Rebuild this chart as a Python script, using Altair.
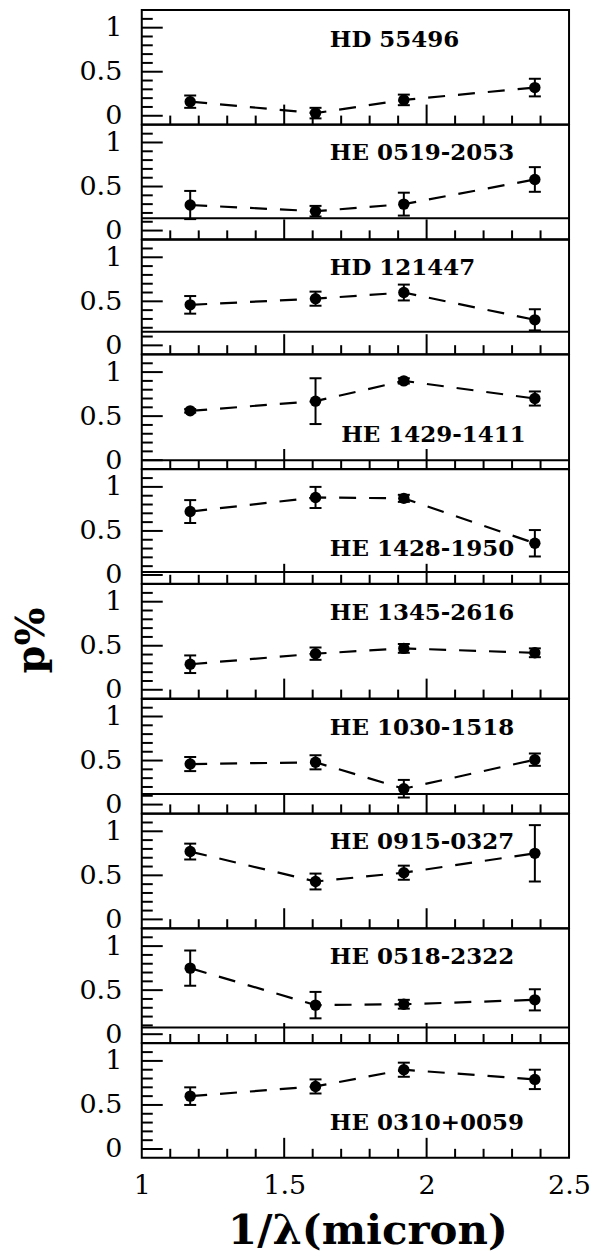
import altair as alt
import pandas as pd

# ---------------- data ----------------
X_VALS = [1.17, 1.61, 1.92, 2.38]

STARS = ["HD 55496", "HE 0519-2053", "HD 121447", "HE 1429-1411", "HE 1428-1950",
         "HE 1345-2616", "HE 1030-1518", "HE 0915-0327", "HE 0518-2322", "HE 0310+0059"]

P_VALUES = [
    [0.16, 0.03, 0.18, 0.32],
    [0.29, 0.22, 0.30, 0.58],
    [0.46, 0.53, 0.60, 0.29],
    [0.56, 0.67, 0.90, 0.70],
    [0.72, 0.88, 0.87, 0.36],
    [0.29, 0.41, 0.47, 0.42],
    [0.46, 0.48, 0.18, 0.51],
    [0.77, 0.43, 0.53, 0.75],
    [0.75, 0.33, 0.34, 0.39],
    [0.60, 0.71, 0.90, 0.79],
]

P_ERRORS = [
    [0.07, 0.06, 0.06, 0.10],
    [0.16, 0.06, 0.13, 0.14],
    [0.10, 0.08, 0.09, 0.12],
    [0.02, 0.26, 0.03, 0.08],
    [0.13, 0.12, 0.04, 0.15],
    [0.10, 0.07, 0.05, 0.05],
    [0.08, 0.08, 0.10, 0.07],
    [0.09, 0.09, 0.08, 0.32],
    [0.20, 0.15, 0.05, 0.12],
    [0.10, 0.08, 0.08, 0.11],
]

LABEL_X = [1.66, 1.66, 1.66, 1.70, 1.66, 1.66, 1.66, 1.66, 1.66, 1.66]
LABEL_Y = [0.86, 0.88, 0.875, 0.28, 0.29, 0.87, 0.87, 0.875, 0.88, 0.30]

# stray horizontal lines present in some panels of the original figure
EXTRA_LINES = [None, 0.14, 0.155, 0.0, 0.035, None, 0.12, None, 0.076, None]

X_MAJOR = [1.5, 2.0]
X_MINOR = [1.1, 1.2, 1.3, 1.4, 1.6, 1.7, 1.8, 1.9, 2.1, 2.2, 2.3, 2.4]
Y_MAJOR = [0.0, 0.5, 1.0]
Y_MINOR = [0.1, 0.2, 0.3, 0.4, 0.6, 0.7, 0.8, 0.9, 1.1]
X_LABELS = [1, 1.5, 2, 2.5]
Y_LABELS = [0, 0.5, 1]

X_TITLE = "1/λ(micron)"
Y_TITLE = "p%"

# ---------------- layout ----------------
W = 428
H = 114.7
N = len(STARS)
SERIF = "DejaVu Serif"

xscale = alt.Scale(domain=[1, 2.5], nice=False, zero=False)
yscale = alt.Scale(domain=[-0.1, 1.2], nice=False, zero=False)


def panel(i):
    last = i == N - 1
    if last:
        xaxis = alt.Axis(values=X_LABELS, format=".1~f", labelFlush=False,
                         labelOverlap=False, labelPadding=15, title=X_TITLE,
                         titleX=226, titleY=73, titleAlign="center",
                         titleBaseline="middle", titleFontSize=42)
    else:
        xaxis = None
    if i == 5:
        yaxis = alt.Axis(values=Y_LABELS, format=".1~f", labelPadding=20,
                         title=Y_TITLE, titleAngle=270, titleX=-110, titleY=56,
                         titleAlign="center", titleBaseline="middle",
                         titleFontSize=40)
    else:
        yaxis = alt.Axis(values=Y_LABELS, format=".1~f", labelPadding=20, title=None)

    def X(f):
        return alt.X(f, type="quantitative", scale=xscale, axis=xaxis)

    def Y(f):
        return alt.Y(f, type="quantitative", scale=yscale, axis=yaxis)

    df = pd.DataFrame({
        "x": X_VALS,
        "p": P_VALUES[i],
        "lo": [p - e for p, e in zip(P_VALUES[i], P_ERRORS[i])],
        "hi": [p + e for p, e in zip(P_VALUES[i], P_ERRORS[i])],
    })
    base = alt.Chart(df)

    line = base.mark_line(color="black", strokeWidth=2.2, strokeDash=[17, 13]).encode(
        x=X("x"), y=Y("p"))
    err = base.mark_rule(color="black", strokeWidth=2).encode(
        x=X("x"), y=Y("lo"), y2="hi")
    cap_lo = base.mark_tick(color="black", orient="horizontal", size=12,
                            thickness=2, opacity=1).encode(x=X("x"), y=Y("lo"))
    cap_hi = base.mark_tick(color="black", orient="horizontal", size=12,
                            thickness=2, opacity=1).encode(x=X("x"), y=Y("hi"))
    pts = base.mark_circle(color="black", size=130, opacity=1).encode(
        x=X("x"), y=Y("p"))

    lab = alt.Chart(pd.DataFrame({"x": [LABEL_X[i]], "y": [LABEL_Y[i]],
                                  "t": [STARS[i]]})).mark_text(
        align="left", baseline="middle", font=SERIF, fontSize=23,
        fontWeight="bold", color="black").encode(x=X("x"), y=Y("y"), text="t:N")

    ymaj = alt.Chart(pd.DataFrame({"v": Y_MAJOR})).mark_rule(
        color="black", strokeWidth=2).encode(y=Y("v"), x=alt.value(0), x2=alt.value(21))
    ymin = alt.Chart(pd.DataFrame({"v": Y_MINOR})).mark_rule(
        color="black", strokeWidth=2).encode(y=Y("v"), x=alt.value(0), x2=alt.value(11))
    xmaj = alt.Chart(pd.DataFrame({"v": X_MAJOR})).mark_rule(
        color="black", strokeWidth=2).encode(x=X("v"), y=alt.value(H), y2=alt.value(H - 20))
    xmin = alt.Chart(pd.DataFrame({"v": X_MINOR})).mark_rule(
        color="black", strokeWidth=2).encode(x=X("v"), y=alt.value(H), y2=alt.value(H - 9))

    layers = [ymaj, ymin, xmaj, xmin]
    if EXTRA_LINES[i] is not None:
        ex = alt.Chart(pd.DataFrame({"v": [EXTRA_LINES[i]]})).mark_rule(
            color="black", strokeWidth=2).encode(y=Y("v"), x=alt.value(0), x2=alt.value(W))
        layers.append(ex)
    layers += [line, err, cap_lo, cap_hi, pts, lab]
    return alt.layer(*layers).properties(width=W, height=H)


chart = alt.vconcat(*[panel(i) for i in range(N)], spacing=0, bounds="flush").properties(
    padding={"left": 3, "top": 0, "right": 0, "bottom": 0},
    background="white",
).configure_view(
    stroke="black", strokeWidth=2
).configure_axis(
    domain=False, ticks=False, grid=False,
    labelFont=SERIF, labelFontSize=27, labelColor="black",
    titleFont=SERIF, titleFontSize=42, titleFontWeight="bold", titleColor="black",
)

chart.save("out.html", embed_options={"renderer": "svg", "actions": False})
